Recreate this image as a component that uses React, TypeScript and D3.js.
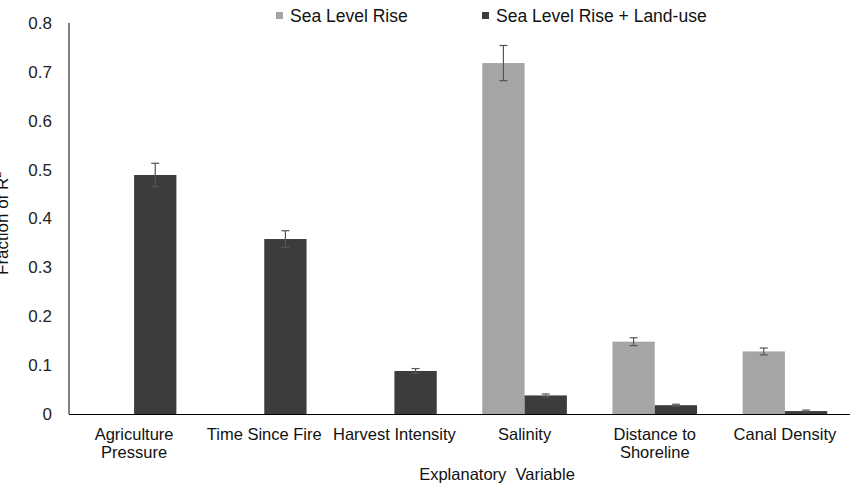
import * as d3 from "d3";

const CATEGORIES = [
  ["Agriculture", "Pressure"],
  ["Time Since Fire"],
  ["Harvest Intensity"],
  ["Salinity"],
  ["Distance to", "Shoreline"],
  ["Canal Density"],
];
const SERIES = ["Sea Level Rise", "Sea Level Rise + Land-use"];
// null = no bar for that variable in that model
const SLR_VALUES = [null, null, null, 0.718, 0.148, 0.128];
const SLR_ERR = [null, null, null, 0.036, 0.008, 0.007];
const SLR_LU_VALUES = [0.489, 0.358, 0.088, 0.038, 0.018, 0.006];
const SLR_LU_ERR = [0.024, 0.017, 0.005, 0.003, 0.002, 0.002];
const Y_TICKS = [0, 0.1, 0.2, 0.3, 0.4, 0.5, 0.6, 0.7, 0.8];

const COLORS = ["#a5a5a5", "#3c3c3c"];
const FONT = "'Liberation Sans', Arial, sans-serif";

const W = 852;
const H = 488;
const M = { top: 23, right: 2, bottom: 74, left: 69 };

export default function App() {
  const x = d3
    .scaleBand<number>()
    .domain(d3.range(CATEGORIES.length))
    .range([M.left, W - M.right])
    .paddingInner(0.35)
    .paddingOuter(0.175);
  const inner = d3.scaleBand<number>().domain([0, 1]).range([0, x.bandwidth()]);
  const y = d3.scaleLinear().domain([0, 0.8]).range([H - M.bottom, M.top]);

  const series = [
    { values: SLR_VALUES, err: SLR_ERR },
    { values: SLR_LU_VALUES, err: SLR_LU_ERR },
  ];

  const bars: JSX.Element[] = [];
  series.forEach((s, si) => {
    s.values.forEach((v, ci) => {
      if (v == null) return;
      const bx = (x(ci) ?? 0) + (inner(si) ?? 0);
      const bw = inner.bandwidth();
      bars.push(
        <rect key={`b${si}-${ci}`} x={bx} y={y(v)} width={bw} height={y(0) - y(v)} fill={COLORS[si]} />
      );
      const e = s.err[ci];
      if (e != null) {
        const cx = bx + bw / 2;
        bars.push(
          <g key={`e${si}-${ci}`} stroke="#555" strokeWidth={1.2}>
            <line x1={cx} x2={cx} y1={y(v + e)} y2={y(v - e)} />
            <line x1={cx - 4} x2={cx + 4} y1={y(v + e)} y2={y(v + e)} />
            <line x1={cx - 4} x2={cx + 4} y1={y(v - e)} y2={y(v - e)} />
          </g>
        );
      }
    });
  });

  return (
    <svg
      width={W}
      height={H}
      style={{ position: "absolute", left: 0, top: 0, background: "#fff" }}
      fontFamily={FONT}
    >
      {bars}

      {/* axes */}
      <line x1={M.left} x2={M.left} y1={M.top} y2={y(0)} stroke="#000" />
      <line x1={M.left} x2={W - M.right} y1={y(0) + 0.5} y2={y(0) + 0.5} stroke="#000" />

      {Y_TICKS.map((t) => (
        <text key={t} x={52} y={y(t)} dy="0.35em" textAnchor="end" fontSize={17} fill="#222">
          {t === 0 ? "0" : d3.format(".1f")(t)}
        </text>
      ))}

      {CATEGORIES.map((lines, ci) => (
        <text key={ci} textAnchor="middle" fontSize={16.5} fill="#111">
          {lines.map((l, li) => (
            <tspan key={li} x={(x(ci) ?? 0) + x.bandwidth() / 2} y={440 + li * 18}>
              {l}
            </tspan>
          ))}
        </text>
      ))}

      <text x={497} y={480} textAnchor="middle" fontSize={16.5} fill="#111" xmlSpace="preserve">
        {"Explanatory  Variable"}
      </text>

      <text transform="translate(8,275) rotate(-90)" fontSize={17} fill="#111">
        Fraction of R<tspan fontSize={11} dy={-7}>2</tspan>
      </text>

      {/* legend */}
      {SERIES.map((name, i) => {
        const lx = i === 0 ? 276 : 482;
        return (
          <g key={name}>
            <rect x={lx} y={12} width={7} height={7} fill={COLORS[i]} />
            <text x={lx + 14} y={22} fontSize={17.5} fill="#111">
              {name}
            </text>
          </g>
        );
      })}
    </svg>
  );
}
